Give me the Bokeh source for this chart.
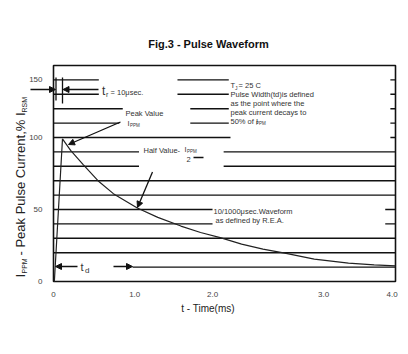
import math
from bokeh.plotting import figure
from bokeh.models import Label, Arrow, NormalHead, FixedTicker
from bokeh.embed import file_html
from bokeh.resources import INLINE

# ---- data ----
time_ms = [0.01, 0.105, 0.2, 0.35, 0.52, 0.70, 0.98, 1.22, 1.49, 1.72, 1.95, 2.20, 2.45, 2.72, 3.05, 3.45, 3.75, 4.0]
current_pct = [0, 99, 91, 81, 70, 61, 51, 44.5, 38.5, 34, 30.5, 26, 22.5, 19.5, 15.5, 12.8, 11.5, 10.8]

y_ticks = [0, 50, 100, 140]
y_tick_labels = ["0", "50", "100", "150"]
x_ticks = [0, 0.95, 1.86, 3.16, 3.96]
x_tick_labels = ["0", "1.0", "2.0", "3.0", "4.0"]

# broken horizontal grid lines (level, from ms, to ms)
grid_level = [140, 140, 140, 130, 130, 130, 120, 120, 120, 110, 110, 110, 100, 100,
              90, 90, 80, 80, 70, 60, 50, 50, 40, 40, 30, 20, 10]
grid_from = [0, 1.45, 3.94, 0, 1.45, 3.94, 0, 1.6, 3.94, 0, 1.6, 3.94, 0, 3.94,
             0, 1.99, 0, 1.99, 0, 0, 0, 3.88, 0, 3.88, 0, 0, 0.924]
grid_to = [0.53, 2.05, 4, 0.53, 2.05, 4, 0.81, 2.05, 4, 0.77, 2.05, 4, 2.07, 4,
           1.0, 4, 1.0, 4, 4, 4, 1.86, 4, 1.86, 4, 4, 4, 4]

# ---- geometry (pixels of the 408x354 page) ----
FL, FR, FT, FB = 53, 395, 65, 281
W, H = 408, 354
XMAX, YMAX = 4.0, 150.0


def fx(px):
    return (px - FL) / (FR - FL) * XMAX


def fy(py):
    return (FB - py) / (FB - FT) * YMAX


p = figure(width=W, height=H, x_range=(fx(0), fx(W)), y_range=(fy(H), fy(0)),
           output_backend="svg", toolbar_location=None, title=None,
           min_border=0)
p.background_fill_color = "white"
p.border_fill_color = "white"
p.outline_line_color = None
p.xgrid.visible = False
p.ygrid.visible = False

FONT = "Liberation Sans"
for ax in (p.xaxis[0], p.yaxis[0]):
    ax.fixed_location = 0
    ax.axis_line_color = None
    ax.major_tick_line_color = None
    ax.minor_tick_line_color = None
    ax.major_tick_out = 0
    ax.major_tick_in = 0
    ax.minor_tick_out = 0
    ax.minor_tick_in = 0
    ax.major_label_text_font = FONT
    ax.major_label_text_font_size = "8px"
    ax.major_label_text_color = "#444444"

p.xaxis.ticker = FixedTicker(ticks=x_ticks)
p.xaxis.major_label_overrides = dict(zip(x_ticks, x_tick_labels))
p.xaxis.major_label_standoff = 10
p.yaxis.ticker = FixedTicker(ticks=y_ticks)
p.yaxis.major_label_overrides = dict(zip(y_ticks, y_tick_labels))
p.yaxis.major_label_standoff = 11

# plot border
p.quad(left=[0], right=[XMAX], bottom=[0], top=[YMAX], fill_color=None,
       line_color="#111111", line_width=1.6)

# grid segments
p.segment(x0=grid_from, y0=grid_level, x1=grid_to, y1=grid_level,
          line_color="#111111", line_width=1.4)

# marker segments (tr verticals, fraction dash)
p.segment(x0=[fx(55.5), fx(62), fx(193)], y0=[fy(77), fy(77), fy(157)],
          x1=[fx(55.5), fx(62), fx(203)], y1=[fy(100), fy(103), fy(157)],
          line_color="#111111", line_width=1.3)

# waveform
p.line(time_ms, current_pct, line_color="#222222", line_width=1.2)


def arrow(x0, y0, x1, y1):
    p.add_layout(Arrow(end=NormalHead(size=6, fill_color="#111111", line_color="#111111", line_width=1),
                       x_start=fx(x0), y_start=fy(y0), x_end=fx(x1), y_end=fy(y1),
                       line_color="#111111", line_width=1.3))


arrow(30, 89, 55, 89)
arrow(98, 89, 62.5, 89)
arrow(120, 121.5, 68, 144)
arrow(152, 171.5, 137, 207)
arrow(77, 266, 55, 266)
arrow(113, 266, 132, 266)


def T(px, py, text, size, bold=False, align="left", angle=0.0, color="#333333"):
    p.add_layout(Label(x=fx(px), y=fy(py), text=text, text_font=FONT,
                       text_font_size=f"{size}px",
                       text_font_style="bold" if bold else "normal",
                       text_align=align, text_baseline="middle",
                       angle=angle, text_color=color))


T(209.5, 43, "Fig.3  - Pulse Waveform", 11, bold=True, align="center", color="#111111")

T(101.5, 90.5, "t", 12)
T(105.5, 93.5, "r", 7)
T(110, 91.5, "= 10\u03bcsec.", 7.5)

T(125, 112.7, "Peak Value", 7.5)
T(127, 123, "I", 7.5)
T(129.5, 124.5, "PPM", 4.5)

T(143, 150, "Half Value-", 7.5)
T(184, 149, "I", 7.5)
T(186.5, 150.5, "PPM", 4.5)
T(186, 158.5, "2", 7.5)

T(230, 85, "T", 7.5)
T(234.5, 87, "J", 5)
T(238, 85, "= 25 C", 7.5)
T(230, 94, "Pulse Width(td)is defined", 7.5)
T(230, 103, "as the point where the", 7.5)
T(230, 112, "peak current decays to", 7.5)
T(230, 121, "50% of I", 7.5)
T(255.5, 122.5, "PPM", 4.5)

T(213, 211, "10/1000\u03bcsec.Waveform", 7.5)
T(215, 220, "as defined by R.E.A.", 7.5)

T(80, 266.5, "t", 11)
T(84.5, 269.5, "d", 8)

T(207.5, 308, "t - Time(ms)", 10, align="center", color="#222222")

# rotated y axis title
A = math.pi / 2
T(20, 277, "I", 13, angle=A, color="#222222")
T(23.5, 273, "PPM", 7, angle=A, color="#222222")
T(20, 255, "- Peak Pulse Current,% I", 13, angle=A, color="#222222")
T(23.5, 112, "RSM", 7, angle=A, color="#222222")

open("out.html", "w").write(file_html(p, INLINE))
